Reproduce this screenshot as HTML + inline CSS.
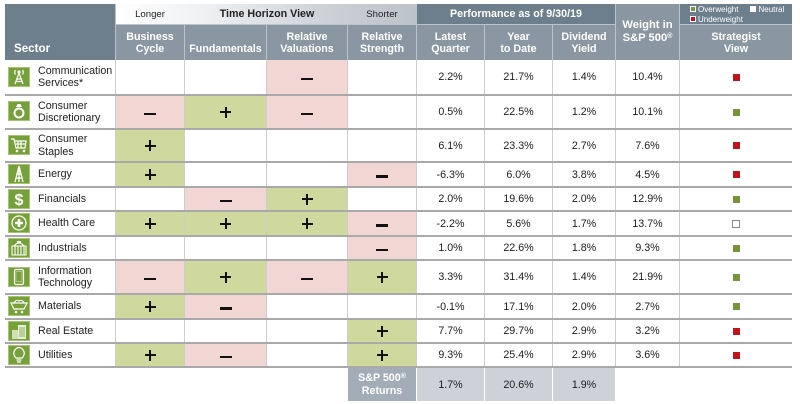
<!DOCTYPE html>
<html><head><meta charset="utf-8">
<style>
body{margin:0;width:800px;height:404px;background:#fff;position:relative;overflow:hidden;font-family:"Liberation Sans",Arial,sans-serif}
.a{position:absolute}
.t{position:absolute;display:flex;align-items:center;justify-content:center;font-size:10.7px;color:#1c1c1c;text-align:center}
.h{position:absolute;display:flex;align-items:flex-end;justify-content:center;font-size:10.7px;font-weight:bold;color:#fff;text-align:center;line-height:12px;box-sizing:border-box;padding-bottom:5px;background:#8a97a2}
.s{position:absolute;left:38px;width:78px;display:flex;align-items:center;font-size:10.7px;color:#222;line-height:12.5px}
.g{background:#cfd99d}
.p{background:#f2d6d3}
.pl{display:block;width:11px;height:11px;position:relative}
.pl:before{content:"";position:absolute;left:0;top:4.5px;width:11px;height:2px;background:#111}
.pl:after{content:"";position:absolute;left:4.5px;top:0;width:2px;height:11px;background:#111}
.mi{display:block;width:12px;height:2.5px;background:#111;margin-top:4px}
.sr{display:block;width:7px;height:7px;background:#c0141c}
.sg{display:block;width:7px;height:7px;background:#76953a}
.se{display:block;width:6px;height:6px;border:1px solid #8a8a8a;background:#fff}
.hl{position:absolute;left:5px;width:787px;height:2px;background:#a9a9a9}
.vl{position:absolute;top:60px;width:1px;height:307px;background:#cdcdcd}
.reg{font-size:7px;position:relative;top:-3px;line-height:0}
</style></head><body>

<!-- header backgrounds -->
<div class="a" style="left:5px;top:4px;width:787px;height:56px;background:#bcc4cb"></div>
<div class="a" style="left:5px;top:4px;width:110px;height:56px;background:#6d7f8c"></div>
<div class="a" style="left:14px;top:42px;font-size:11.6px;font-weight:bold;color:#fff">Sector</div>
<div class="a" style="left:116px;top:4px;width:300px;height:20px;background:linear-gradient(to right,#ffffff 0%,#eef0f2 30%,#c9ced3 75%,#bcc3c9 100%)"></div>
<div class="a" style="left:116px;top:4px;width:68px;height:20px;display:flex;align-items:center;justify-content:center;font-size:9.6px;color:#222">Longer</div>
<div class="a" style="left:200px;top:4px;width:134px;height:20px;display:flex;align-items:center;justify-content:center;font-size:10.7px;font-weight:bold;color:#222">Time Horizon View</div>
<div class="a" style="left:348px;top:4px;width:68px;height:20px;display:flex;align-items:center;justify-content:center;font-size:9.6px;color:#222">Shorter</div>
<div class="a" style="left:417px;top:4px;width:198px;height:20px;background:#6d7f8c;display:flex;align-items:center;justify-content:center;font-size:10.7px;font-weight:bold;color:#fff">Performance as of 9/30/19</div>
<div class="a" style="left:680px;top:4px;width:112px;height:20px;background:#6d7f8c"></div>
<div class="a" style="left:690px;top:5px;font-size:8px;color:#fff;line-height:9.5px;white-space:nowrap">
<span style="display:inline-block;width:4px;height:4px;background:#76953a;border:1px solid #fff;margin-right:2px"></span>Overweight<span style="display:inline-block;width:12px"></span><span style="display:inline-block;width:4px;height:4px;background:#fff;border:1px solid #fff;margin-right:2px"></span>Neutral<br>
<span style="display:inline-block;width:4px;height:4px;background:#c0141c;border:1px solid #fff;margin-right:2px"></span>Underweight</div>

<div class="h" style="left:116px;top:25px;width:68px;height:35px"><div>Business<br>Cycle</div></div>
<div class="h" style="left:185px;top:25px;width:81px;height:35px"><div>Fundamentals</div></div>
<div class="h" style="left:267px;top:25px;width:80px;height:35px"><div>Relative<br>Valuations</div></div>
<div class="h" style="left:348px;top:25px;width:68px;height:35px"><div>Relative<br>Strength</div></div>
<div class="h" style="left:417px;top:25px;width:67px;height:35px"><div>Latest<br>Quarter</div></div>
<div class="h" style="left:485px;top:25px;width:67px;height:35px"><div>Year<br>to Date</div></div>
<div class="h" style="left:553px;top:25px;width:62px;height:35px"><div>Dividend<br>Yield</div></div>
<div class="h" style="left:616px;top:4px;width:63px;height:56px;align-items:center;padding-bottom:0;padding-top:0;font-size:11.2px;line-height:13px"><div>Weight in<br>S&amp;P 500<span class="reg">®</span></div></div>
<div class="h" style="left:680px;top:25px;width:112px;height:35px"><div>Strategist<br>View</div></div>

<!-- colored cells + signs -->
<div class="t p" style="left:267px;top:60px;width:80px;height:34px"><i class="mi"></i></div>
<div class="t p" style="left:116px;top:96px;width:68px;height:32px"><i class="mi"></i></div>
<div class="t g" style="left:185px;top:96px;width:81px;height:32px"><i class="pl"></i></div>
<div class="t p" style="left:267px;top:96px;width:80px;height:32px"><i class="mi"></i></div>
<div class="t g" style="left:116px;top:130px;width:68px;height:31px"><i class="pl"></i></div>
<div class="t g" style="left:116px;top:163px;width:68px;height:23px"><i class="pl"></i></div>
<div class="t p" style="left:348px;top:163px;width:68px;height:23px"><i class="mi"></i></div>
<div class="t p" style="left:185px;top:188px;width:81px;height:22px"><i class="mi"></i></div>
<div class="t g" style="left:267px;top:188px;width:80px;height:22px"><i class="pl"></i></div>
<div class="t g" style="left:116px;top:212px;width:68px;height:23px"><i class="pl"></i></div>
<div class="t g" style="left:185px;top:212px;width:81px;height:23px"><i class="pl"></i></div>
<div class="t g" style="left:267px;top:212px;width:80px;height:23px"><i class="pl"></i></div>
<div class="t p" style="left:348px;top:212px;width:68px;height:23px"><i class="mi"></i></div>
<div class="t p" style="left:348px;top:237px;width:68px;height:22px"><i class="mi"></i></div>
<div class="t p" style="left:116px;top:261px;width:68px;height:32px"><i class="mi"></i></div>
<div class="t g" style="left:185px;top:261px;width:81px;height:32px"><i class="pl"></i></div>
<div class="t p" style="left:267px;top:261px;width:80px;height:32px"><i class="mi"></i></div>
<div class="t g" style="left:348px;top:261px;width:68px;height:32px"><i class="pl"></i></div>
<div class="t g" style="left:116px;top:295px;width:68px;height:23px"><i class="pl"></i></div>
<div class="t p" style="left:185px;top:295px;width:81px;height:23px"><i class="mi"></i></div>
<div class="t g" style="left:348px;top:320px;width:68px;height:22px"><i class="pl"></i></div>
<div class="t g" style="left:116px;top:344px;width:68px;height:22px"><i class="pl"></i></div>
<div class="t p" style="left:185px;top:344px;width:81px;height:22px"><i class="mi"></i></div>
<div class="t g" style="left:348px;top:344px;width:68px;height:22px"><i class="pl"></i></div>

<!-- data values -->
<div class="t" style="left:417px;top:60px;width:67px;height:34px">2.2%</div>
<div class="t" style="left:485px;top:60px;width:67px;height:34px">21.7%</div>
<div class="t" style="left:553px;top:60px;width:62px;height:34px">1.4%</div>
<div class="t" style="left:616px;top:60px;width:63px;height:34px">10.4%</div>
<div class="t" style="left:680px;top:60px;width:112px;height:34px"><i class="sr"></i></div>

<div class="t" style="left:417px;top:96px;width:67px;height:32px">0.5%</div>
<div class="t" style="left:485px;top:96px;width:67px;height:32px">22.5%</div>
<div class="t" style="left:553px;top:96px;width:62px;height:32px">1.2%</div>
<div class="t" style="left:616px;top:96px;width:63px;height:32px">10.1%</div>
<div class="t" style="left:680px;top:96px;width:112px;height:32px"><i class="sg"></i></div>

<div class="t" style="left:417px;top:130px;width:67px;height:31px">6.1%</div>
<div class="t" style="left:485px;top:130px;width:67px;height:31px">23.3%</div>
<div class="t" style="left:553px;top:130px;width:62px;height:31px">2.7%</div>
<div class="t" style="left:616px;top:130px;width:63px;height:31px">7.6%</div>
<div class="t" style="left:680px;top:130px;width:112px;height:31px"><i class="sr"></i></div>

<div class="t" style="left:417px;top:163px;width:67px;height:23px">-6.3%</div>
<div class="t" style="left:485px;top:163px;width:67px;height:23px">6.0%</div>
<div class="t" style="left:553px;top:163px;width:62px;height:23px">3.8%</div>
<div class="t" style="left:616px;top:163px;width:63px;height:23px">4.5%</div>
<div class="t" style="left:680px;top:163px;width:112px;height:23px"><i class="sr"></i></div>

<div class="t" style="left:417px;top:188px;width:67px;height:22px">2.0%</div>
<div class="t" style="left:485px;top:188px;width:67px;height:22px">19.6%</div>
<div class="t" style="left:553px;top:188px;width:62px;height:22px">2.0%</div>
<div class="t" style="left:616px;top:188px;width:63px;height:22px">12.9%</div>
<div class="t" style="left:680px;top:188px;width:112px;height:22px"><i class="sg"></i></div>

<div class="t" style="left:417px;top:212px;width:67px;height:23px">-2.2%</div>
<div class="t" style="left:485px;top:212px;width:67px;height:23px">5.6%</div>
<div class="t" style="left:553px;top:212px;width:62px;height:23px">1.7%</div>
<div class="t" style="left:616px;top:212px;width:63px;height:23px">13.7%</div>
<div class="t" style="left:680px;top:212px;width:112px;height:23px"><i class="se"></i></div>

<div class="t" style="left:417px;top:237px;width:67px;height:22px">1.0%</div>
<div class="t" style="left:485px;top:237px;width:67px;height:22px">22.6%</div>
<div class="t" style="left:553px;top:237px;width:62px;height:22px">1.8%</div>
<div class="t" style="left:616px;top:237px;width:63px;height:22px">9.3%</div>
<div class="t" style="left:680px;top:237px;width:112px;height:22px"><i class="sg"></i></div>

<div class="t" style="left:417px;top:261px;width:67px;height:32px">3.3%</div>
<div class="t" style="left:485px;top:261px;width:67px;height:32px">31.4%</div>
<div class="t" style="left:553px;top:261px;width:62px;height:32px">1.4%</div>
<div class="t" style="left:616px;top:261px;width:63px;height:32px">21.9%</div>
<div class="t" style="left:680px;top:261px;width:112px;height:32px"><i class="sg"></i></div>

<div class="t" style="left:417px;top:295px;width:67px;height:23px">-0.1%</div>
<div class="t" style="left:485px;top:295px;width:67px;height:23px">17.1%</div>
<div class="t" style="left:553px;top:295px;width:62px;height:23px">2.0%</div>
<div class="t" style="left:616px;top:295px;width:63px;height:23px">2.7%</div>
<div class="t" style="left:680px;top:295px;width:112px;height:23px"><i class="sg"></i></div>

<div class="t" style="left:417px;top:320px;width:67px;height:22px">7.7%</div>
<div class="t" style="left:485px;top:320px;width:67px;height:22px">29.7%</div>
<div class="t" style="left:553px;top:320px;width:62px;height:22px">2.9%</div>
<div class="t" style="left:616px;top:320px;width:63px;height:22px">3.2%</div>
<div class="t" style="left:680px;top:320px;width:112px;height:22px"><i class="sr"></i></div>

<div class="t" style="left:417px;top:344px;width:67px;height:22px">9.3%</div>
<div class="t" style="left:485px;top:344px;width:67px;height:22px">25.4%</div>
<div class="t" style="left:553px;top:344px;width:62px;height:22px">2.9%</div>
<div class="t" style="left:616px;top:344px;width:63px;height:22px">3.6%</div>
<div class="t" style="left:680px;top:344px;width:112px;height:22px"><i class="sr"></i></div>

<!-- S&P returns row -->
<div class="t" style="left:348px;top:368px;width:68px;height:33px;background:#a3adb7;color:#fff;font-weight:bold;line-height:13px;flex-direction:column"><span>S&amp;P 500<span class="reg">®</span></span><span>Returns</span></div>
<div class="t" style="left:417px;top:368px;width:67px;height:33px;background:#ccd2d7">1.7%</div>
<div class="t" style="left:485px;top:368px;width:67px;height:33px;background:#ccd2d7">20.6%</div>
<div class="t" style="left:553px;top:368px;width:62px;height:33px;background:#ccd2d7">1.9%</div>

<!-- vertical lines -->
<div class="vl" style="left:115px"></div>
<div class="vl" style="left:184px"></div>
<div class="vl" style="left:266px"></div>
<div class="vl" style="left:347px"></div>
<div class="vl" style="left:416px"></div>
<div class="vl" style="left:484px"></div>
<div class="vl" style="left:552px"></div>
<div class="vl" style="left:615px"></div>
<div class="vl" style="left:679px"></div>

<!-- horizontal lines -->
<div class="hl" style="top:94px"></div>
<div class="hl" style="top:128px"></div>
<div class="hl" style="top:161px"></div>
<div class="hl" style="top:186px"></div>
<div class="hl" style="top:210px"></div>
<div class="hl" style="top:235px"></div>
<div class="hl" style="top:259px"></div>
<div class="hl" style="top:293px"></div>
<div class="hl" style="top:318px"></div>
<div class="hl" style="top:342px"></div>
<div class="hl" style="top:366px"></div>

<!-- sector names -->
<div class="s" style="top:60px;height:34px">Communication<br>Services*</div>
<div class="s" style="top:96px;height:32px">Consumer<br>Discretionary</div>
<div class="s" style="top:130px;height:31px">Consumer<br>Staples</div>
<div class="s" style="top:163px;height:23px">Energy</div>
<div class="s" style="top:188px;height:22px">Financials</div>
<div class="s" style="top:212px;height:23px">Health Care</div>
<div class="s" style="top:237px;height:22px">Industrials</div>
<div class="s" style="top:261px;height:32px">Information<br>Technology</div>
<div class="s" style="top:295px;height:23px">Materials</div>
<div class="s" style="top:320px;height:22px">Real Estate</div>
<div class="s" style="top:344px;height:22px">Utilities</div>

<!-- icons -->
<svg class="a" style="left:8px;top:67px" width="22" height="20" viewBox="0 0 22 20"><rect x="0.5" y="0.5" width="21" height="19" fill="#76a03a" stroke="#a6c474"/><circle cx="11" cy="5" r="1.6" fill="#fff"/><path d="M11 6 L7 17 M11 6 L15 17 M8.5 12 L13.5 12 M7.8 14.5 L14.2 14.5 M7.5 3 A4 4 0 0 0 7.5 7.5 M14.5 3 A4 4 0 0 1 14.5 7.5" stroke="#fff" stroke-width="1.2" fill="none"/></svg>
<svg class="a" style="left:8px;top:101px" width="22" height="20" viewBox="0 0 22 20"><rect x="0.5" y="0.5" width="21" height="19" fill="#76a03a" stroke="#a6c474"/><circle cx="11" cy="12" r="4.5" stroke="#fff" stroke-width="2" fill="none"/><path d="M8 6 L14 6 L12.5 3 L9.5 3 Z" fill="#fff"/></svg>
<svg class="a" style="left:8px;top:135px" width="22" height="20" viewBox="0 0 22 20"><rect x="0.5" y="0.5" width="21" height="19" fill="#76a03a" stroke="#a6c474"/><path d="M3 4 L6 4 L8 13 L17 13 L18 6 L6.5 6 M8 9 L17.5 9 M10 6 L10 13 M13 6 L13 13" stroke="#fff" stroke-width="1.2" fill="none"/><circle cx="9" cy="16" r="1.3" fill="#fff"/><circle cx="16" cy="16" r="1.3" fill="#fff"/></svg>
<svg class="a" style="left:8px;top:164px" width="22" height="20" viewBox="0 0 22 20"><rect x="0.5" y="0.5" width="21" height="19" fill="#76a03a" stroke="#a6c474"/><path d="M11 2 L7 18 M11 2 L15 18 M9 10 L13 10 M8 14 L14 14 M11 2 L11 18" stroke="#fff" stroke-width="1.3" fill="none"/></svg>
<svg class="a" style="left:8px;top:189px" width="22" height="20" viewBox="0 0 22 20"><rect x="0.5" y="0.5" width="21" height="19" fill="#76a03a" stroke="#a6c474"/><text x="11" y="16" text-anchor="middle" font-family="Liberation Sans, sans-serif" font-size="16" font-weight="bold" fill="#fff">$</text></svg>
<svg class="a" style="left:8px;top:213px" width="22" height="20" viewBox="0 0 22 20"><rect x="0.5" y="0.5" width="21" height="19" fill="#76a03a" stroke="#a6c474"/><circle cx="11" cy="10" r="7" stroke="#fff" stroke-width="1.3" fill="none"/><path d="M11 6 L11 14 M7 10 L15 10" stroke="#fff" stroke-width="2.6"/></svg>
<svg class="a" style="left:8px;top:238px" width="22" height="20" viewBox="0 0 22 20"><rect x="0.5" y="0.5" width="21" height="19" fill="#76a03a" stroke="#a6c474"/><path d="M4 17 L4 8 L18 8 L18 17 Z M7 8 L7 17 M10 8 L10 17 M13 8 L13 17 M16 8 L16 17 M6 8 Q11 2 16 8" stroke="#fff" stroke-width="1.1" fill="none"/><rect x="9" y="3" width="4" height="2" fill="#fff"/></svg>
<svg class="a" style="left:8px;top:267px" width="22" height="20" viewBox="0 0 22 20"><rect x="0.5" y="0.5" width="21" height="19" fill="#76a03a" stroke="#a6c474"/><rect x="6.5" y="2.5" width="9" height="15" rx="1.5" stroke="#fff" stroke-width="1.2" fill="none"/><rect x="8" y="4.5" width="6" height="10" fill="none" stroke="#cfe0b5" stroke-width="0.6"/></svg>
<svg class="a" style="left:8px;top:296px" width="22" height="20" viewBox="0 0 22 20"><rect x="0.5" y="0.5" width="21" height="19" fill="#76a03a" stroke="#a6c474"/><path d="M3 7 L19 7 L16 13 L6 13 Z M6 7 Q8 3 11 5 Q14 3 16 7" stroke="#fff" stroke-width="1.2" fill="none"/><circle cx="8" cy="16" r="1.3" fill="#fff"/><circle cx="14" cy="16" r="1.3" fill="#fff"/></svg>
<svg class="a" style="left:8px;top:321px" width="22" height="20" viewBox="0 0 22 20"><rect x="0.5" y="0.5" width="21" height="19" fill="#76a03a" stroke="#a6c474"/><rect x="4" y="9" width="6" height="9" fill="#cfe0b5"/><rect x="10" y="4" width="8" height="14" fill="#e6efd8"/><path d="M12 6 L12 16 M14 6 L14 16 M16 6 L16 16" stroke="#76a03a" stroke-width="0.8"/></svg>
<svg class="a" style="left:8px;top:345px" width="22" height="20" viewBox="0 0 22 20"><rect x="0.5" y="0.5" width="21" height="19" fill="#76a03a" stroke="#a6c474"/><path d="M8 13 Q5 10 6 6.5 Q8 2.5 11 2.5 Q14 2.5 16 6.5 Q17 10 14 13 Z" stroke="#fff" stroke-width="1.2" fill="none"/><path d="M8.5 15 L13.5 15 M9 17 L13 17" stroke="#fff" stroke-width="1.3"/></svg>

</body></html>
